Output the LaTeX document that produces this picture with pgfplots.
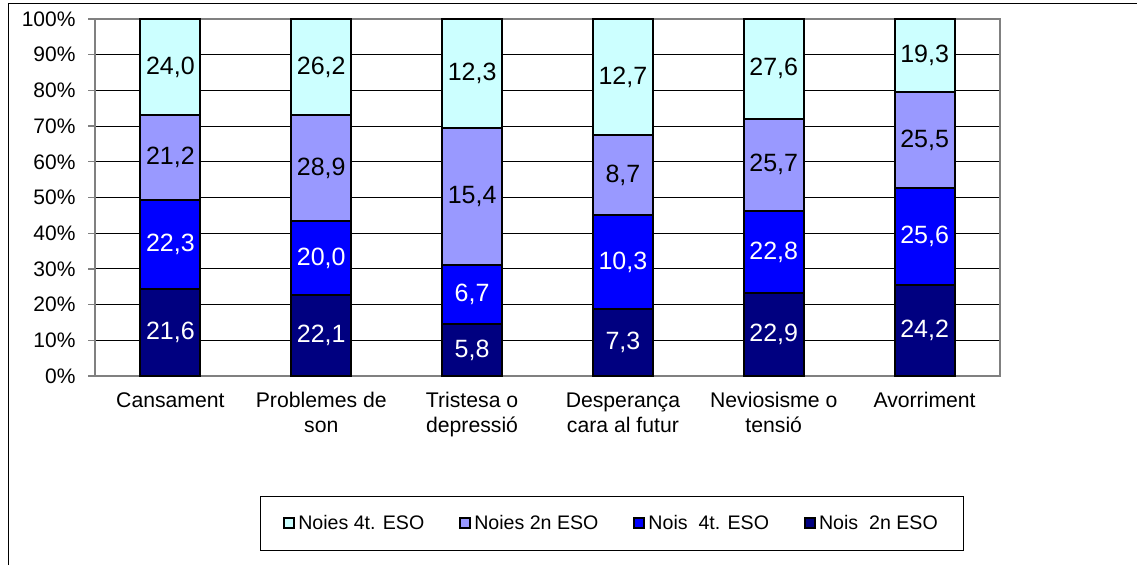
\documentclass[border=0pt]{standalone}
\usepackage{fontspec}
\setmainfont{Liberation Sans}
\usepackage{pgfplots}
\pgfplotsset{compat=1.18}
\usepackage{pgfplotstable}

\definecolor{cNavy}{RGB}{0,0,128}
\definecolor{cBlue}{RGB}{0,0,255}
\definecolor{cLav}{RGB}{153,153,255}
\definecolor{cCya}{RGB}{204,255,255}

% a = Nois 2n ESO, b = Nois 4t. ESO, c = Noies 2n ESO, d = Noies 4t. ESO
\pgfplotstableread{
x a b c d
0 21.6 22.3 21.2 24.0
1 22.1 20.0 28.9 26.2
2 5.8 6.7 15.4 12.3
3 7.3 10.3 8.7 12.7
4 22.9 22.8 25.7 27.6
5 24.2 25.6 25.5 19.3
}\data

\newcommand{\tot}{(\thisrow{a}+\thisrow{b}+\thisrow{c}+\thisrow{d})}

\begin{document}
\begin{tikzpicture}
\useasboundingbox (0,0) rectangle (1137pt,565pt);
\draw[black, line width=1pt] (8pt,0pt) -- (8pt,561pt) -- (1137pt,561pt);
\begin{axis}[
  at={(95pt,189pt)}, anchor=south west,
  width=905pt, height=357pt, scale only axis,
  xmin=-0.5, xmax=5.5, ymin=0, ymax=100,
  /pgf/number format/assume math mode=true,
  xtick pos=bottom, ytick pos=left,
  xtick={0,...,5},
  xticklabels={Cansament, Problemes de\\son, Tristesa o\\depressió, Desperança\\cara al futur, Neviosisme o\\tensió, Avorriment},
  xticklabel style={align=center, font=\fontsize{21.2}{25}\selectfont, yshift=-6pt},
  major x tick style={draw=none},
  extra x ticks={-0.5,0.5,1.5,2.5,3.5,4.5,5.5},
  extra x tick labels={},
  extra x tick style={grid=none, major tick style={draw=gray, line width=1.2pt}, major tick length=7pt},
  tick align=outside,
  major tick length=7pt,
  ytick={0,10,...,100},
  yticklabel={\pgfmathprintnumber{\tick}\%},
  yticklabel style={font=\fontsize{21}{25}\selectfont, xshift=-9pt},
  major y tick style={draw=gray, line width=1.2pt},
  ymajorgrids, grid style={black, line width=0.9pt},
  axis line style={gray, line width=1.5pt},
  legend columns=4,
  legend style={at={(0.5713,-0.412)}, anchor=center, draw=black, line width=0.8pt,
    font=\fontsize{19.6}{23}\selectfont, inner xsep=23pt, inner ysep=17pt,
    /tikz/every even column/.append style={column sep=32pt},
    nodes={inner xsep=3pt}},
  legend cell align=left,
]
\addplot[ybar, bar width=60pt, bar shift=0pt, fill=cCya, draw=black, line width=2pt,
  legend image code/.code={\draw[fill=cCya, draw=black, line width=2pt] (0pt,-5pt) rectangle (10pt,5pt);}]
  table[x=x, y expr={100*\tot/\tot}] {\data};
\addlegendentry{Noies 4t. ESO}
\addplot[ybar, bar width=60pt, bar shift=0pt, fill=cLav, draw=black, line width=2pt,
  legend image code/.code={\draw[fill=cLav, draw=black, line width=2pt] (0pt,-5pt) rectangle (10pt,5pt);}]
  table[x=x, y expr={100*(\thisrow{a}+\thisrow{b}+\thisrow{c})/\tot}] {\data};
\addlegendentry{Noies 2n ESO}
\addplot[ybar, bar width=60pt, bar shift=0pt, fill=cBlue, draw=black, line width=2pt,
  legend image code/.code={\draw[fill=cBlue, draw=black, line width=2pt] (0pt,-5pt) rectangle (10pt,5pt);}]
  table[x=x, y expr={100*(\thisrow{a}+\thisrow{b})/\tot}] {\data};
\addlegendentry{Nois\ \ 4t. ESO}
\addplot[ybar, bar width=60pt, bar shift=0pt, fill=cNavy, draw=black, line width=2pt,
  legend image code/.code={\draw[fill=cNavy, draw=black, line width=2pt] (0pt,-5pt) rectangle (10pt,5pt);}]
  table[x=x, y expr={100*\thisrow{a}/\tot}] {\data};
\addlegendentry{Nois\ \ 2n ESO}

% value labels
\pgfplotsset{lbl/.style={forget plot, draw=none, mark=none, point meta=explicit,
  nodes near coords={\pgfmathprintnumber[fixed,fixed zerofill,precision=1,use comma]{\pgfplotspointmeta}},
  every node near coord/.append style={anchor=center, font=\fontsize{25}{30}\selectfont, text=#1}}}
\addplot[lbl=white] table[x=x, y expr={100*(\thisrow{a}/2)/\tot}, meta=a] {\data};
\addplot[lbl=white] table[x=x, y expr={100*(\thisrow{a}+\thisrow{b}/2)/\tot}, meta=b] {\data};
\addplot[lbl=black] table[x=x, y expr={100*(\thisrow{a}+\thisrow{b}+\thisrow{c}/2)/\tot}, meta=c] {\data};
\addplot[lbl=black] table[x=x, y expr={100*(\thisrow{a}+\thisrow{b}+\thisrow{c}+\thisrow{d}/2)/\tot}, meta=d] {\data};
\end{axis}
\end{tikzpicture}
\end{document}
